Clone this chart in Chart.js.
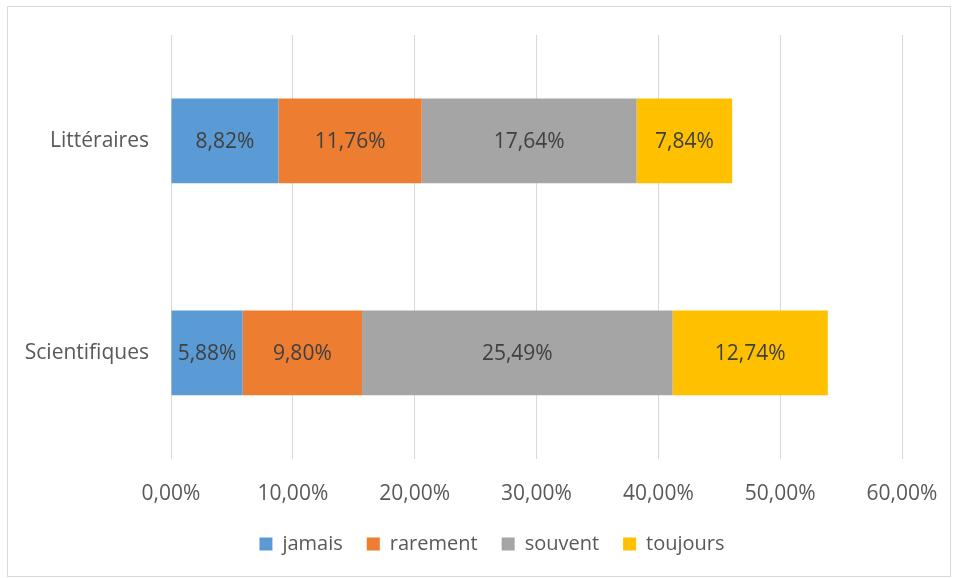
<!DOCTYPE html>
<html>
<head>
<meta charset="utf-8">
<script src="https://cdn.jsdelivr.net/npm/chart.js@4"></script>
<style>
    body { margin: 0; background: #fff; }
    #frame {
        position: absolute;
        left: 7px; top: 6px;
        width: 942px; height: 569px;
        border: 1px solid #d9d9d9;
        background: #fff;
    }
</style>
</head>
<body>
<div id="frame"><canvas id="chart" width="942" height="569"></canvas></div>
<script>
// Categories and series (percent values)
const categories = ['Littéraires', 'Scientifiques'];
const seriesNames = ['jamais', 'rarement', 'souvent', 'toujours'];
const seriesColors = ['#5b9bd5', '#ed7d31', '#a5a5a5', '#ffc000'];
const jamais = [8.82, 5.88];
const rarement = [11.76, 9.80];
const souvent = [17.64, 25.49];
const toujours = [7.84, 12.74];
const tickValues = [0, 10, 20, 30, 40, 50, 60];

const FONT = "'Open Sans', 'Liberation Sans', sans-serif";
const FONT_SIZE = 21;

function frPercent(v) {
    return v.toFixed(2).replace('.', ',') + '%';
}

// Writes the value inside each bar segment
const barLabels = {
    id: 'barLabels',
    afterDatasetsDraw(chart) {
        const ctx = chart.ctx;
        ctx.save();
        ctx.font = FONT_SIZE + 'px ' + FONT;
        ctx.fillStyle = '#404040';
        ctx.textAlign = 'center';
        ctx.textBaseline = 'middle';
        chart.data.datasets.forEach((ds, i) => {
            chart.getDatasetMeta(i).data.forEach((bar, j) => {
                const cx = (bar.x + bar.base) / 2;
                ctx.fillText(frPercent(ds.data[j]), cx, bar.y + 1);
            });
        });
        ctx.restore();
    }
};

// Nudges the legend row into place
const legendShift = {
    id: 'legendShift',
    afterLayout(chart) {
        const lg = chart.legend;
        if (!lg) return;
        const dx = 37, dy = -12;
        lg.left += dx;
        lg.right += dx;
        lg.top += dy;
        lg.bottom += dy;
        if (lg.legendHitBoxes) lg.legendHitBoxes.forEach(b => { b.left += dx; b.top += dy; });
    }
};

const allSeries = [jamais, rarement, souvent, toujours];

new Chart(document.getElementById('chart'), {
    type: 'bar',
    data: {
        labels: categories,
        datasets: allSeries.map((values, i) => ({
            label: seriesNames[i],
            data: values,
            backgroundColor: seriesColors[i],
            borderWidth: 0,
            categoryPercentage: 1,
            barPercentage: 0.4
        }))
    },
    options: {
        indexAxis: 'y',
        responsive: false,
        animation: false,
        layout: { padding: { top: 28, right: 48, left: 0, bottom: 0 } },
        scales: {
            x: {
                stacked: true,
                min: 0,
                max: 60,
                afterBuildTicks(scale) {
                    scale.ticks = tickValues.map(v => ({ value: v }));
                },
                afterFit(scale) {
                    scale.paddingLeft = 0;
                    scale.paddingRight = 0;
                    scale.height -= 8;
                },
                ticks: {
                    callback: v => frPercent(v),
                    color: '#595959',
                    font: { family: FONT, size: FONT_SIZE },
                    padding: 23,
                    maxRotation: 0
                },
                grid: { color: '#d9d9d9', lineWidth: 1, drawTicks: false },
                border: { display: false }
            },
            y: {
                stacked: true,
                afterFit(scale) {
                    scale.width = 163;
                    scale.paddingTop = 0;
                    scale.paddingBottom = 0;
                },
                ticks: {
                    color: '#595959',
                    font: { family: FONT, size: FONT_SIZE },
                    padding: 22
                },
                grid: { display: false, drawTicks: false },
                border: { display: false }
            }
        },
        plugins: {
            legend: {
                position: 'bottom',
                labels: {
                    boxWidth: 13,
                    boxHeight: 13,
                    padding: 24,
                    color: '#595959',
                    font: { family: FONT, size: 20 }
                }
            },
            tooltip: { enabled: false }
        }
    },
    plugins: [barLabels, legendShift]
});
</script>
</body>
</html>
